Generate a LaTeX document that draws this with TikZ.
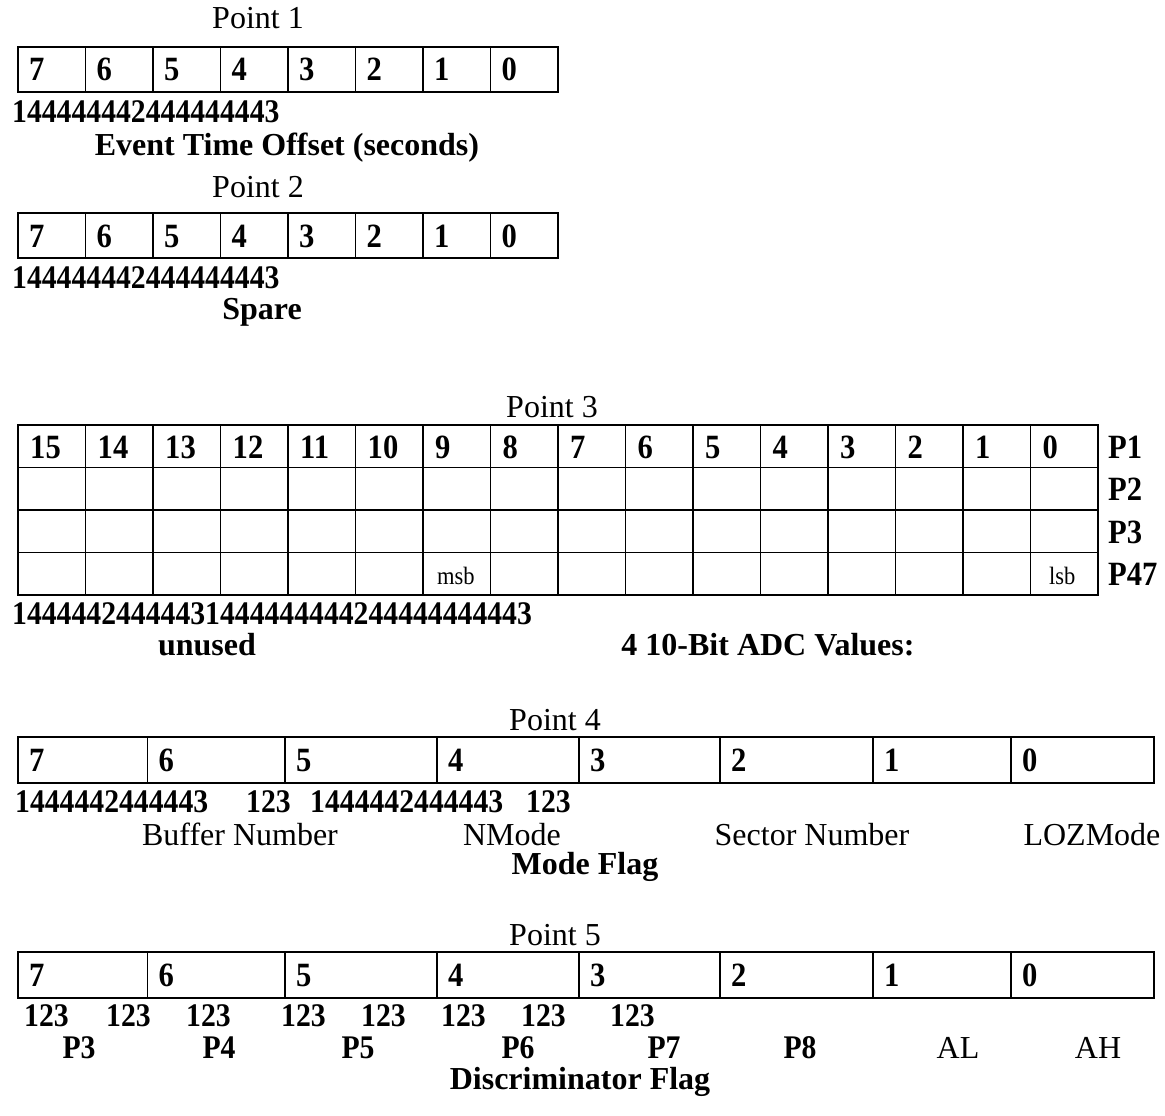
\documentclass[tikz,border=0pt]{standalone}
\usepackage{fontspec}
\setmainfont{Liberation Serif}
\newfontfamily\digfont[FakeStretch=0.9]{Liberation Serif}
\begin{document}
\begin{tikzpicture}[x=1pt,y=-1pt,
  grid/.style={line width=1.9pt},
  lbl/.style={inner sep=0pt,anchor=base,font=\fontsize{32}{35}\selectfont},
  blbl/.style={inner sep=0pt,anchor=base,font=\fontsize{32}{35}\selectfont\bfseries},
  cellnum/.style={inner sep=0pt,anchor=base west,font=\digfont\fontsize{34}{36}\selectfont\bfseries},
  small/.style={inner sep=0pt,anchor=base west,font=\digfont\fontsize{25}{28}\selectfont},
  brace/.style={inner sep=0pt,anchor=base west,font=\digfont\fontsize{33}{35}\selectfont\bfseries},
  rowlbl/.style={inner sep=0pt,anchor=base west,font=\digfont\fontsize{34}{36}\selectfont\bfseries},
  plbl/.style={inner sep=0pt,anchor=base,font=\digfont\fontsize{33}{35}\selectfont\bfseries}]
\useasboundingbox (0,0) rectangle (1165,1116);
\fill[white] (0,0) rectangle (1165,1116);

% ---------- Point 1 ----------
\node[lbl] (p1t) at (258,29) {Point 1};
\draw[grid] (18,47) rectangle (558,92);
\foreach \i in {1,...,7} \draw[grid] (18+\i*67.5,47) -- (18+\i*67.5,92);
\foreach \i/\b in {0/7,1/6,2/5,3/4,4/3,5/2,6/1,7/0}
  \node[cellnum] (p1c\b) at (29+\i*67.5,81) {\b};
\node[brace] (p1br) at (12,122) {144444442444444443};
\node[blbl] (p1d) at (287,155) {Event Time Offset (seconds)};

% ---------- Point 2 ----------
\node[lbl] (p2t) at (258,197) {Point 2};
\draw[grid] (18,213) rectangle (558,258);
\foreach \i in {1,...,7} \draw[grid] (18+\i*67.5,213) -- (18+\i*67.5,258);
\foreach \i/\b in {0/7,1/6,2/5,3/4,4/3,5/2,6/1,7/0}
  \node[cellnum] (p2c\b) at (29+\i*67.5,247) {\b};
\node[brace] (p2br) at (12,288) {144444442444444443};
\node[blbl] (p2d) at (262,319) {Spare};

% ---------- Point 3 ----------
\node[lbl] (p3t) at (552,417) {Point 3};
\draw[grid] (18,425) rectangle (1098,595);
\foreach \r in {1,2,3} \draw[grid] (18,425+\r*42.5) -- (1098,425+\r*42.5);
\foreach \i in {1,...,15} \draw[grid] (18+\i*67.5,425) -- (18+\i*67.5,595);
\foreach \i/\b in {0/15,1/14,2/13,3/12,4/11,5/10,6/9,7/8,8/7,9/6,10/5,11/4,12/3,13/2,14/1,15/0}
  \node[cellnum] (p3c\b) at (30+\i*67.5,458) {\b};
\node[small] (msb) at (437,584) {msb};
\node[small] (lsb) at (1049,584) {lsb};
\node[rowlbl] (rP1) at (1108,458) {P1};
\node[rowlbl] (rP2) at (1108,500.5) {P2};
\node[rowlbl] (rP3) at (1108,543) {P3};
\node[rowlbl] (rP47) at (1108,585.5) {P47};
\node[brace] (p3br) at (12,624) {14444424444431444444444244444444443};
\node[blbl] (unused) at (207,655) {unused};
\node[blbl] (adc) at (768,655) {4 10-Bit ADC Values:};

% ---------- Point 4 ----------
\node[lbl] (p4t) at (555,730) {Point 4};
\draw[grid] (18,737) rectangle (1154,783);
\foreach \x in {147.5,285,437,579,720,873,1011} \draw[grid] (\x,737) -- (\x,783);
\foreach \x/\b in {18/7,147.5/6,285/5,437/4,579/3,720/2,873/1,1011/0}
  \node[cellnum] (p4c\b) at (\x+11,771.5) {\b};
\node[brace] (p4ba) at (15,812) {1444442444443};
\node[brace] (p4bb) at (246,812) {123};
\node[brace] (p4bc) at (310,812) {1444442444443};
\node[brace] (p4bd) at (526,812) {123};
\node[lbl] (buf) at (240,845) {Buffer Number};
\node[lbl] (nmode) at (512,845) {NMode};
\node[lbl] (sect) at (812,845) {Sector Number};
\node[lbl] (loz) at (1092,845) {LOZMode};
\node[blbl] (modeflag) at (585,874) {Mode Flag};

% ---------- Point 5 ----------
\node[lbl] (p5t) at (555,945) {Point 5};
\draw[grid] (18,952) rectangle (1154,998);
\foreach \x in {147.5,285,437,579,720,873,1011} \draw[grid] (\x,952) -- (\x,998);
\foreach \x/\b in {18/7,147.5/6,285/5,437/4,579/3,720/2,873/1,1011/0}
  \node[cellnum] (p5c\b) at (\x+11,986.5) {\b};
\foreach \x/\n in {24/a,106/b,186/c,281/d,361/e,441/f,521/g,610/h}
  \node[brace] (p5b\n) at (\x,1026) {123};
\node[plbl] (d3) at (79,1058) {P3};
\node[plbl] (d4) at (219,1058) {P4};
\node[plbl] (d5) at (358,1058) {P5};
\node[plbl] (d6) at (518,1058) {P6};
\node[plbl] (d7) at (664,1058) {P7};
\node[plbl] (d8) at (800,1058) {P8};
\node[lbl] (dAL) at (958,1058) {AL};
\node[lbl] (dAH) at (1098,1058) {AH};
\node[blbl] (discr) at (580,1089) {Discriminator Flag};
\end{tikzpicture}
\end{document}
